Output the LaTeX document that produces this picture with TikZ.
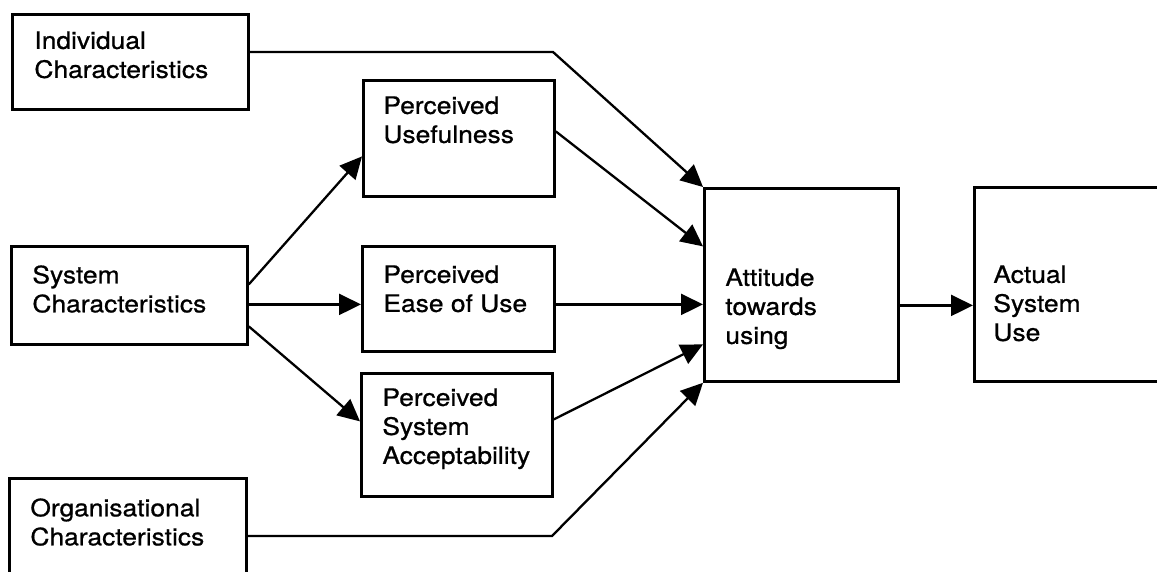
\documentclass[tikz,border=0pt]{standalone}
\usepackage{fontspec}
\setmainfont{TeX Gyre Heros}[FakeStretch=1.1,FakeBold=0.8]
\usetikzlibrary{arrows.meta}
\begin{document}
\begin{tikzpicture}[x=0.5pt,y=-0.5pt,
  box/.style={draw=black, line width=1.4pt, rectangle, inner sep=0pt, anchor=north west},
  lbl/.style={anchor=north west, inner sep=0pt, align=left, font=\fontsize{12}{14.5}\selectfont},
  conn/.style={draw=black, line width=1.15pt, -{Triangle[length=11pt,width=10.5pt]}}]
\useasboundingbox (0,0) rectangle (1157,572);
% boxes
\node[box, minimum width=118pt, minimum height=47.5pt] (ic) at (11,13) {};
\node[box, minimum width=118pt, minimum height=49pt] (sc) at (10,245) {};
\node[box, minimum width=118.5pt, minimum height=56pt] (oc) at (8,477) {};
\node[box, minimum width=95.5pt, minimum height=58pt] (pu) at (362,79) {};
\node[box, minimum width=96pt, minimum height=52.5pt] (pe) at (361,245) {};
\node[box, minimum width=95.5pt, minimum height=61.5pt] (pa) at (360,372) {};
\node[box, minimum width=97pt, minimum height=96.5pt] (at) at (703,187) {};
\node[box, minimum width=100pt, minimum height=97pt] (au) at (973,186) {};
% texts
\node[lbl] (ic-t) at (34,31) {Individual\\Characteristics};
\node[lbl] (sc-t) at (32,265) {System\\Characteristics};
\node[lbl] (oc-t) at (30,498) {Organisational\\Characteristics};
\node[lbl] (pu-t) at (383,96) {Perceived\\Usefulness};
\node[lbl] (pe-t) at (383,265) {Perceived\\Ease of Use};
\node[lbl] (pa-t) at (382,388) {Perceived\\System\\Acceptability};
\node[lbl] (at-t) at (725,268) {Attitude\\towards\\using};
\node[lbl] (au-t) at (993,265) {Actual\\System\\Use};
% connectors
\coordinate (b1) at (553,52);
\coordinate (b2) at (552,536);
\draw[conn] (ic.east |- b1) -- (b1) -- (at.north west);
\draw[conn] (oc.east |- b2) -- (b2) -- (at.south west);
\draw[conn] ([shift={(0,-7)}]pu.east) -- ([shift={(0,-38.5)}]at.west);
\draw[conn] ([shift={(0,-11)}]sc.east) -- ([shift={(0,18)}]pu.west);
\coordinate (pe-in) at ([shift={(0,5.5)}]pe.west);
\draw[conn] (sc.east |- pe-in) -- (pe-in);
\draw[conn] ([shift={(0,31)}]sc.east) -- ([shift={(0,-13.5)}]pa.west);
\coordinate (pe-out) at ([shift={(0,5.5)}]pe.east);
\draw[conn] (pe-out) -- (at.west |- pe-out);
\draw[conn] ([shift={(0,-15.5)}]pa.east) -- ([shift={(0,59.5)}]at.west);
\coordinate (at-out) at ([shift={(0,20.5)}]at.east);
\draw[conn] (at-out) -- (au.west |- at-out);
\end{tikzpicture}
\end{document}
